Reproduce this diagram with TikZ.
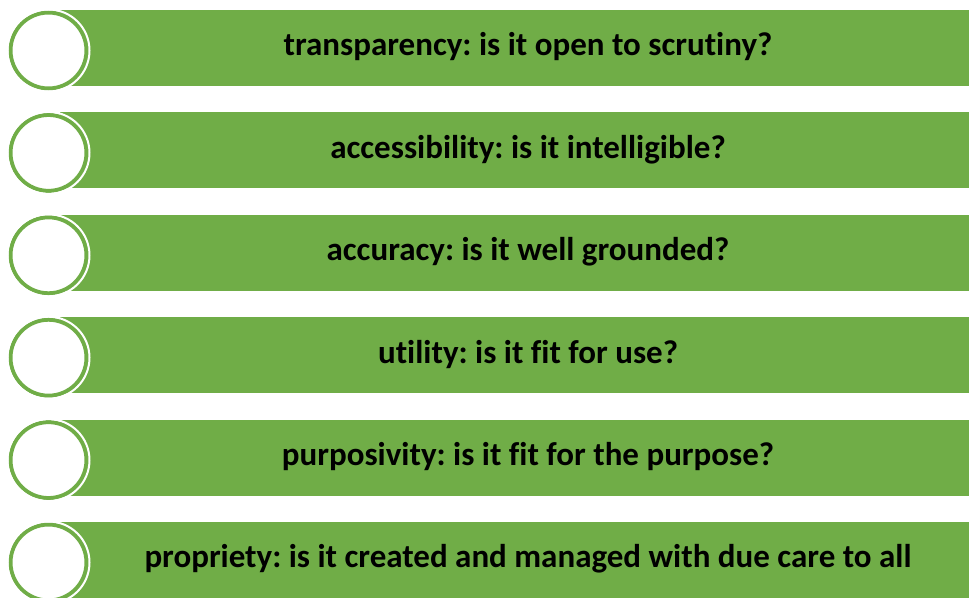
\documentclass[tikz,border=0pt]{standalone}
\usepackage{fontspec}
\setmainfont[Ligatures=NoCommon]{Carlito}
\definecolor{leaf}{HTML}{70AD47}
\begin{document}
\frenchspacing
\begin{tikzpicture}[x=1pt,y=-1pt,
  bar/.style={fill=leaf,draw=none},
  ring/.style={circle,minimum size=76pt,inner sep=0pt,fill=white,draw=leaf,line width=4pt},
  label/.style={font=\bfseries\fontsize{33}{38}\selectfont,text=black,anchor=center}]
\useasboundingbox (0,0) rectangle (969,597);
\begin{scope}
\clip (0,0) rectangle (969,597);
\foreach \i/\t in {0/{transparency: is it open to scrutiny?},
                   1/{accessibility: is it intelligible?},
                   2/{accuracy: is it well grounded?},
                   3/{utility: is it fit for use?},
                   4/{purposivity: is it fit for the purpose?},
                   5/{propriety: is it created and managed with due care to all}}{
  \pgfmathsetmacro{\top}{10+102.4*\i}
  \fill[bar] (60,\top) rectangle (969,\top+76);
  \node[ring] (c\i) at (48.5,\top+40.5) {};
  \draw[white,line width=2pt] (c\i.center) circle[radius=41pt];
  \node[label] (t\i) at (528,\top+37) {\t};
}
\end{scope}
\end{tikzpicture}
\end{document}
